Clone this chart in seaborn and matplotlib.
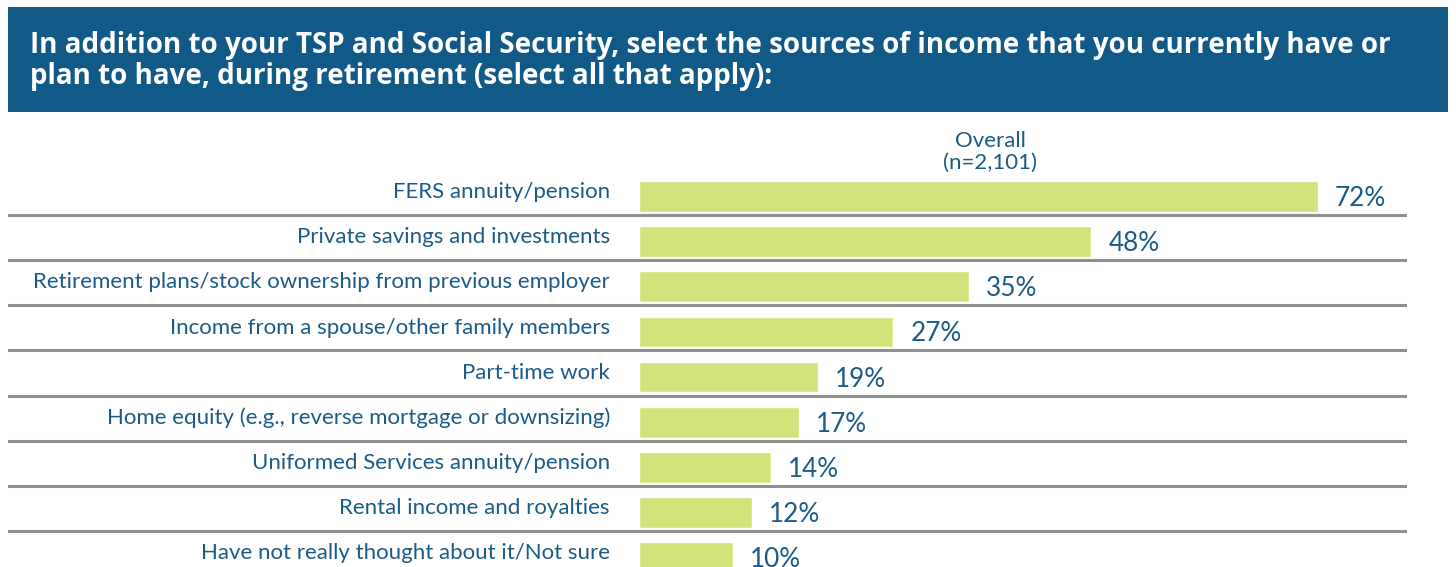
import matplotlib
matplotlib.use("Agg")
import matplotlib.pyplot as plt
import seaborn as sns
import pandas as pd
from matplotlib.patches import Rectangle

categories = [
    "FERS annuity/pension",
    "Private savings and investments",
    "Retirement plans/stock ownership from previous employer",
    "Income from a spouse/other family members",
    "Part-time work",
    "Home equity (e.g., reverse mortgage or downsizing)",
    "Uniformed Services annuity/pension",
    "Rental income and royalties",
    "Have not really thought about it/Not sure",
]
values = [72, 48, 35, 27, 19, 17, 14, 12, 10]
value_labels = ["72%", "48%", "35%", "27%", "19%", "17%", "14%", "12%", "10%"]
title = ("In addition to your TSP and Social Security, select the sources of income that you currently have or\n"
         "plan to have, during retirement (select all that apply):")
header = "Overall\n(n=2,101)"

BAND = "#115a87"
BAR = "#d1e47c"
TXT = "#1c5b87"
GRID = "#8c918f"
FONT = "Lato"

sns.set_theme(style="white")
plt.rcParams["font.family"] = [FONT, "DejaVu Sans"]

W, H = 1456, 567
fig = plt.figure(figsize=(W / 100, H / 100), dpi=100)

def px(x0, y0, w, h):
    return [x0 / W, 1 - (y0 + h) / H, w / W, h / H]

# title band
band = Rectangle((8 / W, 1 - 112.3 / H), (1447.7 - 8) / W, (112.3 - 7) / H,
                 transform=fig.transFigure, facecolor=BAND, edgecolor="none")
fig.patches.append(band)
clip = Rectangle((0, 1 - 92 / H), 1, 92 / H, transform=fig.transFigure,
                 facecolor="none", edgecolor="none")
t = fig.text(30 / W, 1 - 84 / H, title, color="white", fontsize=20,
             fontweight="bold", ha="left", va="baseline", linespacing=1.08,
             family=["Open Sans", "DejaVu Sans"])
t.set_clip_path(clip)

# axes
x0, scale = 638.6, 9.435
ax_left, ax_right = 8, 1407
top = 196.5 - 0.5 * 45.15
height = 9 * 45.15
ax = fig.add_axes(px(ax_left, top, ax_right - ax_left, height))
df = pd.DataFrame({"cat": categories, "val": values})
sns.barplot(data=df, y="cat", x="val", orient="h", color=BAR, width=0.68,
            saturation=1, ax=ax)
ax.set_xlim(-(x0 - ax_left) / scale, (ax_right - x0) / scale)
ax.set_ylim(8.5, -0.5)
ax.axis("off")
for i in range(len(categories) - 1):
    ax.axhline(i + 0.41, color=GRID, lw=2.2, zorder=0)
for i, (c, v, lab) in enumerate(zip(categories, values, value_labels)):
    ax.text((610 - x0) / scale, i + 0.035, c, ha="right", va="baseline",
            fontsize=16, color=TXT)
    ax.text(v + 17 / scale, i + 0.21, lab, ha="left", va="baseline",
            fontsize=18.8, color=TXT)

fig.text(990 / W, 1 - 169 / H, header, ha="center", va="baseline",
         fontsize=16, color=TXT, linespacing=1.13)

fig.savefig("out.png", dpi=100)
